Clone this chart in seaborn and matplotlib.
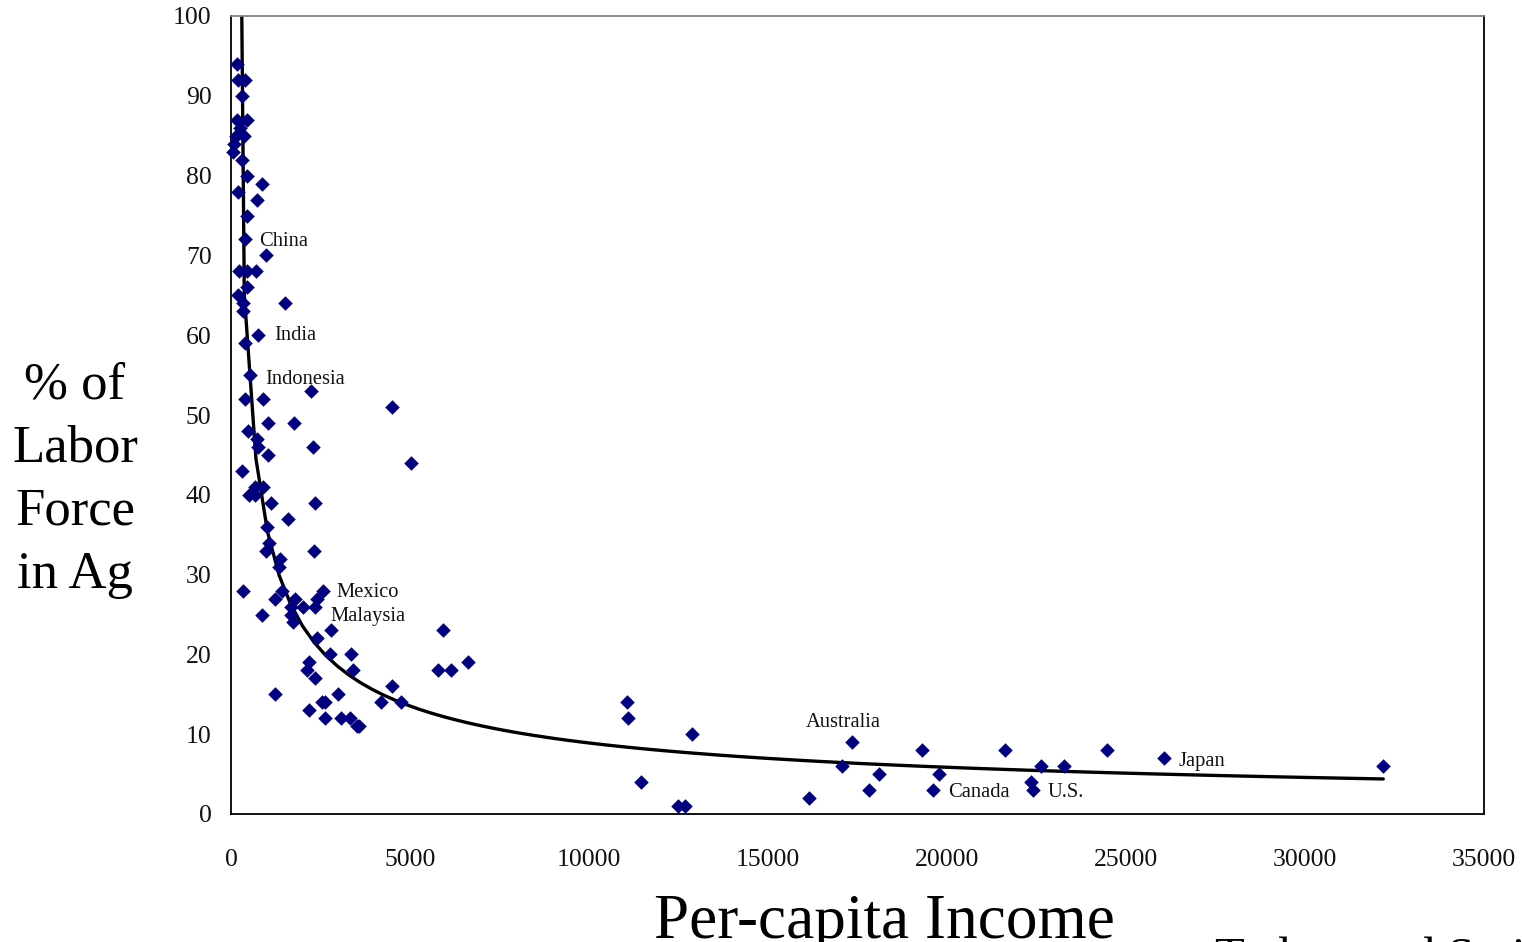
import numpy as np
import pandas as pd
import matplotlib
matplotlib.use("Agg")
import matplotlib.pyplot as plt
import seaborn as sns

# ---- data ----
income = [176, 200, 390, 316, 176, 455, 251, 140, 363, 84, 47, 300, 438, 875, 205,
          717, 438, 391, 968, 223, 438, 690, 438, 205, 344, 1508, 344, 763, 391, 531,
          391, 903, 2226, 4488,
          1042, 1760, 466, 717, 763, 2281, 1042, 5019, 316, 670, 903, 512, 670, 1108,
          2346, 1583, 996, 1070, 968, 2318, 1369, 1350, 344, 1415, 2561, 2393, 1229,
          1788, 2002, 2346, 1676, 875, 1667, 1741, 2793, 2393, 2765, 3352, 2187, 2132,
          3417, 2346, 4506, 1229, 2998, 4180, 4739, 2533, 2626, 2187, 2626, 3063, 3324,
          3510, 3584, 5930, 5791, 6136, 6610,
          11051, 11079, 12885, 11442, 12476, 12680, 16152, 17336, 17057, 18099, 17819,
          19309, 19775, 19617, 21618, 22614, 22344, 22391, 23274, 24476, 26067, 32186]
labor_pct = [94, 92, 92, 90, 87, 87, 86, 85, 85, 84, 83, 82, 80, 79, 78,
             77, 75, 72, 70, 68, 68, 68, 66, 65, 64, 64, 63, 60, 59, 55,
             52, 52, 53, 51,
             49, 49, 48, 47, 46, 46, 45, 44, 43, 41, 41, 40, 40, 39,
             39, 37, 36, 34, 33, 33, 32, 31, 28, 28, 28, 27, 27,
             27, 26, 26, 26, 25, 25, 24, 23, 22, 20, 20, 19, 18,
             18, 17, 16, 15, 15, 14, 14, 14, 14, 13, 12, 12, 12,
             11, 11, 23, 18, 18, 19,
             14, 12, 10, 4, 1, 1, 2, 9, 6, 5, 3,
             8, 5, 3, 8, 6, 4, 3, 6, 8, 7, 6]

label_names = ["China", "India", "Indonesia", "Mexico", "Malaysia",
               "Australia", "Canada", "U.S.", "Japan"]
label_x = [780, 1200, 950, 2960, 2790, 16060, 20030, 22820, 26480]
label_y = [71.7, 59.9, 54.5, 27.8, 24.8, 11.5, 2.7, 2.7, 6.6]

x_ticks = [0, 5000, 10000, 15000, 20000, 25000, 30000, 35000]
y_ticks = [0, 10, 20, 30, 40, 50, 60, 70, 80, 90, 100]

df = pd.DataFrame({"income": income, "labor": labor_pct})

# power trendline (least squares in log space, like a spreadsheet power fit)
b, lna = np.polyfit(np.log(df["income"]), np.log(df["labor"]), 1)
xs = np.linspace(df["income"].min(), df["income"].max(), 100)
trend = pd.DataFrame({"income": xs, "labor": np.exp(lna) * xs ** b})

sns.set_theme(style="white")
plt.rcParams["font.family"] = ["Liberation Serif", "DejaVu Serif"]

fig = plt.figure(figsize=(15.22, 9.42), dpi=100)
ax = fig.add_axes([231 / 1522, 1 - 814 / 942, (1484 - 231) / 1522, (814 - 16) / 942])

sns.scatterplot(data=df, x="income", y="labor", marker="D", color="#000080",
                s=55, linewidth=0, ax=ax, zorder=3, clip_on=False)
sns.lineplot(data=trend, x="income", y="labor", color="black", lw=2.4,
             sort=False, estimator=None, ax=ax, zorder=2)

for name, lx, ly in zip(label_names, label_x, label_y):
    ax.text(lx, ly, name, fontsize=14.8, ha="left", va="center", color="#111111")

ax.set_xlim(0, 35000)
ax.set_ylim(0, 100)
ax.set_xticks(x_ticks)
ax.set_yticks(y_ticks)
ax.set_xticklabels([str(t) for t in x_ticks])
ax.set_yticklabels([str(t) for t in y_ticks])
ax.tick_params(axis="both", direction="inout", length=12, width=1.2,
               color="black", labelsize=18.5, labelcolor="#111111")
ax.tick_params(axis="x", pad=19)
ax.tick_params(axis="y", pad=8)
ax.set_xlabel("")
ax.set_ylabel("")
for side in ["left", "bottom", "right"]:
    ax.spines[side].set_color("black")
    ax.spines[side].set_linewidth(1.3)
ax.spines["top"].set_color("#808080")
ax.spines["top"].set_linewidth(1.3)
ax.grid(False)

fig.text(75 / 1522, 1 - 480 / 942, "% of\nLabor\nForce\nin Ag", fontsize=38,
         ha="center", va="center", multialignment="center", linespacing=1.41,
         color="black")
fig.text(884 / 1522, 1 - 938 / 942, "Per-capita Income", fontsize=45.5,
         ha="center", va="baseline", color="black")
fig.text(1215 / 1522, 1 - 971 / 942, "Todaro and Smith", fontsize=35,
         ha="left", va="baseline", color="black")

fig.savefig("out.png", dpi=100)
